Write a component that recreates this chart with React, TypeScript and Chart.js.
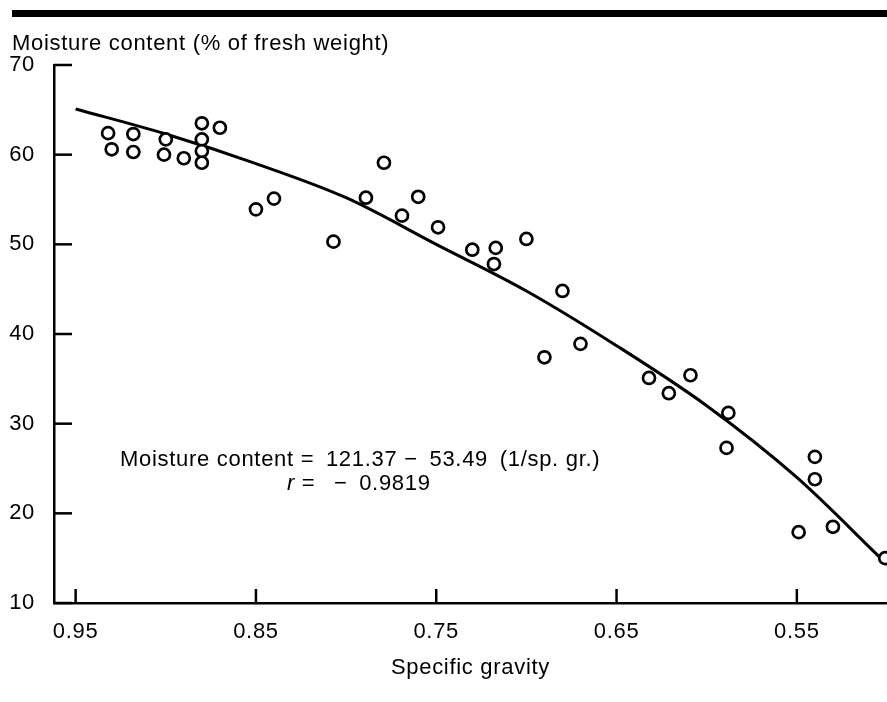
import { useEffect, useRef } from "react";
import { Chart, registerables } from "chart.js";

Chart.register(...registerables);

// Observed points: specific gravity vs moisture content (% of fresh weight)
const gravity = [
  0.932, 0.930, 0.918, 0.918, 0.900, 0.901, 0.890, 0.880, 0.880, 0.880,
  0.880, 0.870, 0.850, 0.840, 0.807, 0.789, 0.779, 0.769, 0.760, 0.749,
  0.730, 0.717, 0.718, 0.700, 0.680, 0.670, 0.690, 0.632, 0.621, 0.609,
  0.588, 0.589, 0.540, 0.540, 0.549, 0.530, 0.501,
];
const moisture = [
  62.4, 60.6, 62.3, 60.3, 61.7, 60.0, 59.6, 63.5, 61.7, 60.4,
  59.1, 63.0, 53.9, 55.1, 50.3, 55.2, 59.1, 53.2, 55.3, 51.9,
  49.4, 49.6, 47.8, 50.6, 44.8, 38.9, 37.4, 35.1, 33.4, 35.4,
  31.2, 27.3, 26.3, 23.8, 17.9, 18.5, 15.0,
];

// Fitted curve
const fitGravity = [0.95, 0.9, 0.85, 0.8, 0.75, 0.7, 0.65, 0.6, 0.55, 0.503];
const fitMoisture = [65.1, 62.3, 59.0, 55.2, 50.0, 44.8, 38.7, 32.0, 24.0, 14.9];

const xTickValues = [0.95, 0.85, 0.75, 0.65, 0.55];
const yTickValues = [10, 20, 30, 40, 50, 60, 70];

const yAxisTitle = "Moisture content (% of fresh weight)";
const xAxisTitle = "Specific gravity";
const equationText = "Moisture content =\u2002121.37 \u2212\u200253.49\u2002(1/sp. gr.)";
const rSymbol = "r";
const rValueText = " = \u2002\u2212\u20020.9819";

const FONT = '"Liberation Sans", Arial, Helvetica, sans-serif';
const SPACING = "0.7px";

const decorPlugin = {
  id: "decor",
  beforeDraw(chart: any) {
    chart.ctx.letterSpacing = SPACING;
  },
  afterDraw(chart: any) {
    const { ctx, chartArea, scales } = chart;
    ctx.save();
    ctx.strokeStyle = "#000";
    ctx.lineWidth = 2.5;
    ctx.lineCap = "butt";
    yTickValues.forEach((v) => {
      const y = scales.y.getPixelForValue(v);
      ctx.beginPath();
      ctx.moveTo(chartArea.left, y);
      ctx.lineTo(chartArea.left + 18, y);
      ctx.stroke();
    });
    xTickValues.forEach((v) => {
      const x = scales.x.getPixelForValue(v);
      ctx.beginPath();
      ctx.moveTo(x, chartArea.bottom);
      ctx.lineTo(x, chartArea.bottom - 14);
      ctx.stroke();
    });
    ctx.fillStyle = "#000";
    (ctx as any).letterSpacing = SPACING;
    ctx.textAlign = "left";
    ctx.textBaseline = "alphabetic";
    ctx.font = `22px ${FONT}`;
    ctx.fillText(yAxisTitle, 12, 50);
    ctx.fillText(equationText, 120, 466);
    ctx.font = `italic 22px ${FONT}`;
    ctx.fillText(rSymbol, 287, 490);
    const rw = ctx.measureText(rSymbol).width;
    ctx.font = `22px ${FONT}`;
    ctx.fillText(rValueText, 287 + rw, 490);
    ctx.restore();
  },
};

export default function App() {
  const canvasRef = useRef<HTMLCanvasElement | null>(null);

  useEffect(() => {
    if (!canvasRef.current) return;
    const points = gravity.map((g, i) => ({ x: g, y: moisture[i] }));
    const fit = fitGravity.map((g, i) => ({ x: g, y: fitMoisture[i] }));
    const tickFont = { family: FONT, size: 22 };
    const chart = new Chart(canvasRef.current, {
      type: "scatter",
      data: {
        datasets: [
          {
            label: "Observed",
            data: points,
            pointRadius: 6,
            pointBorderWidth: 2.7,
            pointBackgroundColor: "#fff",
            pointBorderColor: "#000",
            borderColor: "#000",
            backgroundColor: "#fff",
            order: 0,
            clip: false,
          },
          {
            label: "Fit",
            data: fit,
            showLine: true,
            pointRadius: 0,
            borderColor: "#000",
            borderWidth: 3,
            cubicInterpolationMode: "monotone",
            fill: false,
            order: 1,
          },
        ],
      },
      options: {
        animation: false,
        responsive: false,
        events: [],
        layout: {
          autoPadding: false,
          padding: { top: 65, left: 0, right: 0, bottom: 0 },
        },
        plugins: {
          legend: { display: false },
          tooltip: { enabled: false },
          title: { display: false },
        },
        scales: {
          x: {
            type: "linear",
            position: "bottom",
            min: 0.5,
            max: 0.962,
            reverse: true,
            grid: { display: false, drawTicks: false },
            border: { display: true, color: "#000", width: 2.5 },
            afterBuildTicks: (scale: any) => {
              scale.ticks = xTickValues.map((v) => ({ value: v }));
            },
            afterFit: (scale: any) => {
              scale.height = 99;
            },
            ticks: {
              autoSkip: false,
              maxRotation: 0,
              padding: 16,
              color: "#000",
              font: tickFont,
              callback: (v: any) => Number(v).toFixed(2),
            },
            title: {
              display: true,
              text: xAxisTitle,
              color: "#000",
              font: tickFont,
              padding: { top: 0, bottom: 21 },
            },
          },
          y: {
            type: "linear",
            position: "left",
            min: 10,
            max: 70,
            grid: { display: false, drawTicks: false },
            border: { display: true, color: "#000", width: 2.5 },
            afterBuildTicks: (scale: any) => {
              scale.ticks = yTickValues.map((v) => ({ value: v }));
            },
            afterFit: (scale: any) => {
              scale.width = 54;
            },
            ticks: {
              padding: 19,
              color: "#000",
              font: tickFont,
              callback: (v: any) => String(v),
            },
          },
        },
      },
      plugins: [decorPlugin],
    } as any);
    return () => chart.destroy();
  }, []);

  return (
    <div
      style={{
        position: "absolute",
        left: 0,
        top: 0,
        width: 887,
        height: 702,
        background: "#fff",
        overflow: "hidden",
      }}
    >
      <canvas
        ref={canvasRef}
        width={887}
        height={702}
        style={{ position: "absolute", left: 0, top: 0, width: 887, height: 702 }}
      />
      <div
        style={{
          position: "absolute",
          left: 12,
          top: 10,
          width: 875,
          height: 7,
          background: "#000",
        }}
      />
    </div>
  );
}
